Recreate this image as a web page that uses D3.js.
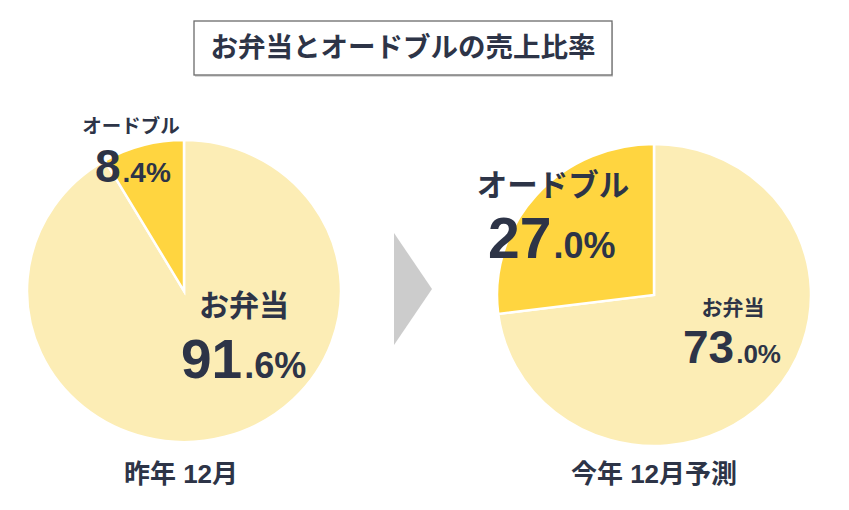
<!DOCTYPE html>
<html>
<head>
<meta charset="utf-8">
<script src="https://cdn.jsdelivr.net/npm/d3@7"></script>
<style>
  body { margin: 0; background: #fff; }
  svg text { font-family: "Liberation Sans", Arial, "Noto Sans CJK JP", sans-serif; font-weight: bold; fill: #2d3447; }
</style>
</head>
<body>
<script>
// data
var categories = ["お弁当", "オードブル"];
var lastYear = [91.6, 8.4];
var thisYear = [73.0, 27.0];
var periodLabels = ["昨年 12月", "今年 12月予測"];
var title = "お弁当とオードブルの売上比率";

var colors = ["#fcedb5", "#ffd540"];

var width = 849, height = 510;
var svg = d3.select("body").append("svg")
    .attr("width", width)
    .attr("height", height);

// title box (with a faint shadow underneath)
svg.append("rect")
    .attr("x", 195).attr("y", 23)
    .attr("width", 418).attr("height", 54)
    .attr("fill", "#d9d9d9");
svg.append("rect")
    .attr("x", 194).attr("y", 21)
    .attr("width", 418).attr("height", 54)
    .attr("fill", "#fff")
    .attr("stroke", "#6b6b6b")
    .attr("stroke-width", 1.3);
svg.append("text")
    .attr("x", 403).attr("y", 57)
    .attr("text-anchor", "middle")
    .style("font-size", "27.5px")
    .text(title);

// arrow between the pies
svg.append("path")
    .attr("d", "M394,233 L432,289 L394,345 Z")
    .attr("fill", "#cccccc");

var r = 157;
var pie = d3.pie().sort(null).value(function(d) { return d; });
var arc = d3.arc().innerRadius(0).outerRadius(r);

// pies are slightly squashed vertically in the original
function drawPie(values, cx, cy) {
  var g = svg.append("g")
      .attr("transform", "translate(" + cx + "," + cy + ") scale(1," + (151 / 157) + ")");
  g.selectAll("path")
      .data(pie(values))
    .enter().append("path")
      .attr("d", arc)
      .attr("fill", function(d, i) { return colors[i]; })
      .attr("stroke", "#fff")
      .attr("stroke-width", 2.5);
}

drawPie(lastYear, 184, 291);
drawPie(thisYear, 654, 295);

// big number + small ".x%"
function pctLabel(x, y, v, bigSize, smallSize) {
  var s = v.toFixed(1).split(".");
  var t = svg.append("text")
      .attr("x", x).attr("y", y);
  t.append("tspan").style("font-size", bigSize + "px").text(s[0]);
  t.append("tspan").attr("dx", 2).style("font-size", smallSize + "px").text("." + s[1] + "%");
}

function nameLabel(x, y, name, size) {
  svg.append("text")
      .attr("x", x).attr("y", y)
      .attr("text-anchor", "middle")
      .style("font-size", size + "px")
      .text(name);
}

// last year
nameLabel(131, 133, categories[1], 19.5);
pctLabel(95, 182, lastYear[1], 46, 28);
nameLabel(244, 316, categories[0], 30);
pctLabel(181, 378, lastYear[0], 55, 36);

// this year
nameLabel(553, 196, categories[1], 30.5);
pctLabel(488, 258, thisYear[1], 57, 36);
nameLabel(733, 315, categories[0], 21);
pctLabel(683, 363, thisYear[0], 46, 26);

// period labels
nameLabel(181, 483, periodLabels[0], 26);
nameLabel(654, 483, periodLabels[1], 26);
</script>
</body>
</html>
